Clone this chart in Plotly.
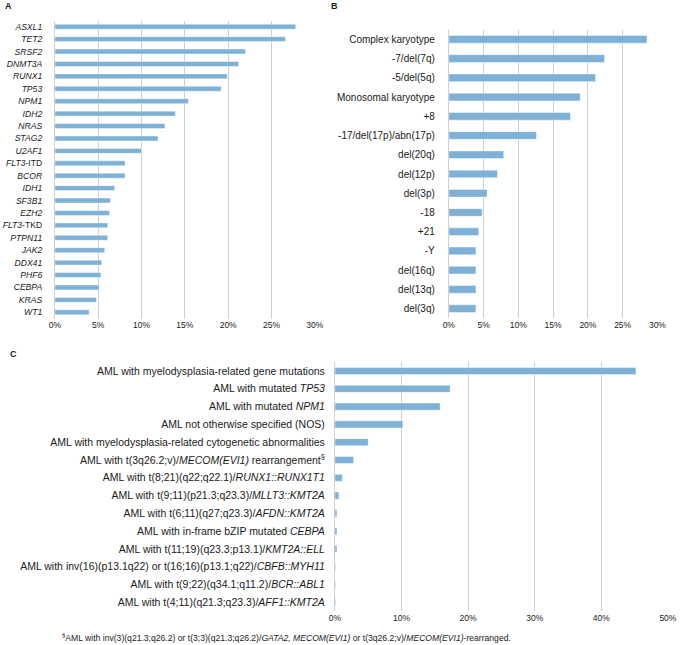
import plotly.graph_objects as go

# ---- Panel A: gene mutations ----
genes_a = ["ASXL1", "TET2", "SRSF2", "DNMT3A", "RUNX1", "TP53", "NPM1", "IDH2", "NRAS",
           "STAG2", "U2AF1", "FLT3-ITD", "BCOR", "IDH1", "SF3B1", "EZH2", "FLT3-TKD",
           "PTPN11", "JAK2", "DDX41", "PHF6", "CEBPA", "KRAS", "WT1"]
labels_a = ["<i>ASXL1</i>", "<i>TET2</i>", "<i>SRSF2</i>", "<i>DNMT3A</i>", "<i>RUNX1</i>",
            "<i>TP53</i>", "<i>NPM1</i>", "<i>IDH2</i>", "<i>NRAS</i>", "<i>STAG2</i>",
            "<i>U2AF1</i>", "<i>FLT3</i>-ITD", "<i>BCOR</i>", "<i>IDH1</i>", "<i>SF3B1</i>",
            "<i>EZH2</i>", "<i>FLT3</i>-TKD", "<i>PTPN11</i>", "<i>JAK2</i>", "<i>DDX41</i>",
            "<i>PHF6</i>", "<i>CEBPA</i>", "<i>KRAS</i>", "<i>WT1</i>"]
values_a = [27.8, 26.6, 22.0, 21.2, 19.9, 19.2, 15.4, 13.9, 12.7, 11.9, 10.0, 8.1, 8.1,
            6.9, 6.4, 6.3, 6.1, 6.1, 5.75, 5.4, 5.3, 5.1, 4.8, 3.95]

# ---- Panel B: cytogenetics ----
labels_b = ["Complex karyotype", "-7/del(7q)", "-5/del(5q)", "Monosomal karyotype", "+8",
            "-17/del(17p)/abn(17p)", "del(20q)", "del(12p)", "del(3p)", "-18", "+21", "-Y",
            "del(16q)", "del(13q)", "del(3q)"]
values_b = [28.5, 22.4, 21.1, 18.9, 17.5, 12.6, 7.9, 7.0, 5.5, 4.8, 4.3, 3.9, 3.9, 3.9, 3.9]

# ---- Panel C: WHO classification ----
cats_c = ["c%d" % i for i in range(14)]
labels_c = [
    "AML with myelodysplasia-related gene mutations",
    "AML with mutated <i>TP53</i>",
    "AML with mutated <i>NPM1</i>",
    "AML not otherwise specified (NOS)",
    "AML with myelodysplasia-related cytogenetic abnormalities",
    "AML with t(3q26.2;v)/<i>MECOM(EVI1)</i> rearrangement<sup>§</sup>",
    "AML with t(8;21)(q22;q22.1)/<i>RUNX1::RUNX1T1</i>",
    "AML with t(9;11)(p21.3;q23.3)/<i>MLLT3::KMT2A</i>",
    "AML with t(6;11)(q27;q23.3)/<i>AFDN::KMT2A</i>",
    "AML with in-frame bZIP mutated <i>CEBPA</i>",
    "AML with t(11;19)(q23.3;p13.1)/<i>KMT2A::ELL</i>",
    "AML with inv(16)(p13.1q22) or t(16;16)(p13.1;q22)/<i>CBFB::MYH11</i>",
    "AML with t(9;22)(q34.1;q11.2)/<i>BCR::ABL1</i>",
    "AML with t(4;11)(q21.3;q23.3)/<i>AFF1::KMT2A</i>",
]
values_c = [45.2, 17.3, 15.8, 10.2, 5.0, 2.8, 1.1, 0.6, 0.3, 0.3, 0.3, 0.1, 0.1, 0.1]

ticks_a = [0, 5, 10, 15, 20, 25, 30]
ticks_c = [0, 10, 20, 30, 40, 50]

BAR = "#7fb1d7"
GRID = "#cfcfcf"
FONT = "Liberation Sans, Arial, sans-serif"
TXT = "#1a1a1a"

fig = go.Figure()
common = dict(orientation="h", marker=dict(color=BAR, line=dict(color="rgba(255,255,255,0.7)", width=0.6)),
              showlegend=False, hoverinfo="x+y")
fig.add_trace(go.Bar(x=values_a, y=genes_a, xaxis="x", yaxis="y", **common))
fig.add_trace(go.Bar(x=values_b, y=labels_b, xaxis="x2", yaxis="y2", **common))
fig.add_trace(go.Bar(x=values_c, y=cats_c, xaxis="x3", yaxis="y3", **common))

def xax(domain, anchor, rng, tv):
    return dict(domain=domain, anchor=anchor, range=rng, tickvals=tv,
                ticktext=["%d%%" % t for t in tv], showgrid=True, gridcolor=GRID, gridwidth=1.3,
                zeroline=True, zerolinecolor=GRID, zerolinewidth=1.3, showline=False,
                ticklabeloverflow="allow", layer="below traces",
                tickfont=dict(size=8.5, color=TXT, family=FONT), fixedrange=True)

def yax(domain, anchor, tv, tt, size, standoff):
    return dict(domain=domain, anchor=anchor, autorange="reversed", type="category",
                tickvals=tv, ticktext=tt, ticks="outside", ticklen=standoff,
                tickcolor="rgba(0,0,0,0)", showgrid=False, showline=False, zeroline=False,
                tickfont=dict(size=size, color=TXT, family=FONT), fixedrange=True)

W, H = 685, 645
fig.update_layout(
    width=W, height=H, margin=dict(l=0, r=0, t=0, b=0),
    paper_bgcolor="white", plot_bgcolor="white",
    font=dict(family=FONT, color=TXT),
    xaxis=xax([50 / W, 315.7 / W], "y", [0, 30], ticks_a),
    yaxis=yax([1 - 318.5 / H, 1 - 20.5 / H], "x", genes_a, labels_a, 8.6, 10),
    xaxis2=xax([452.7 / W, 666 / W], "y2", [0, 30], ticks_a),
    yaxis2=yax([1 - 318.3 / H, 1 - 29.7 / H], "x2", labels_b, labels_b, 10, 11),
    xaxis3=xax([336.3 / W, 676.7 / W], "y3", [0, 50], ticks_c),
    yaxis3=yax([1 - 611.3 / H, 1 - 362.1 / H], "x3", cats_c, labels_c, 10.5, 7),
    bargap=0.6,
)

ann = []
for letter, x, y in [("A", 3, 6), ("B", 336, 6), ("C", 8, 354)]:
    ann.append(dict(text="<b>%s</b>" % letter, x=x / W, y=1 - y / H, xref="paper", yref="paper",
                    xanchor="center", yanchor="middle", showarrow=False,
                    font=dict(size=9, family=FONT, color=TXT)))
ann.append(dict(
    text="<sup>§</sup>AML with inv(3)(q21.3;q26.2) or t(3;3)(q21.3;q26.2)/<i>GATA2, MECOM(EVI1)</i> or t(3q26.2;v)/<i>MECOM(EVI1)</i>-rearranged.",
    x=55 / W, y=1 - 637 / H, xref="paper", yref="paper", xanchor="left", yanchor="middle",
    showarrow=False, font=dict(size=8.6, family=FONT, color=TXT)))
fig.update_layout(annotations=ann)

fig.write_html("out.html", config={"displayModeBar": False},
               post_script="document.body.style.margin='0px';document.body.style.overflow='hidden';")
